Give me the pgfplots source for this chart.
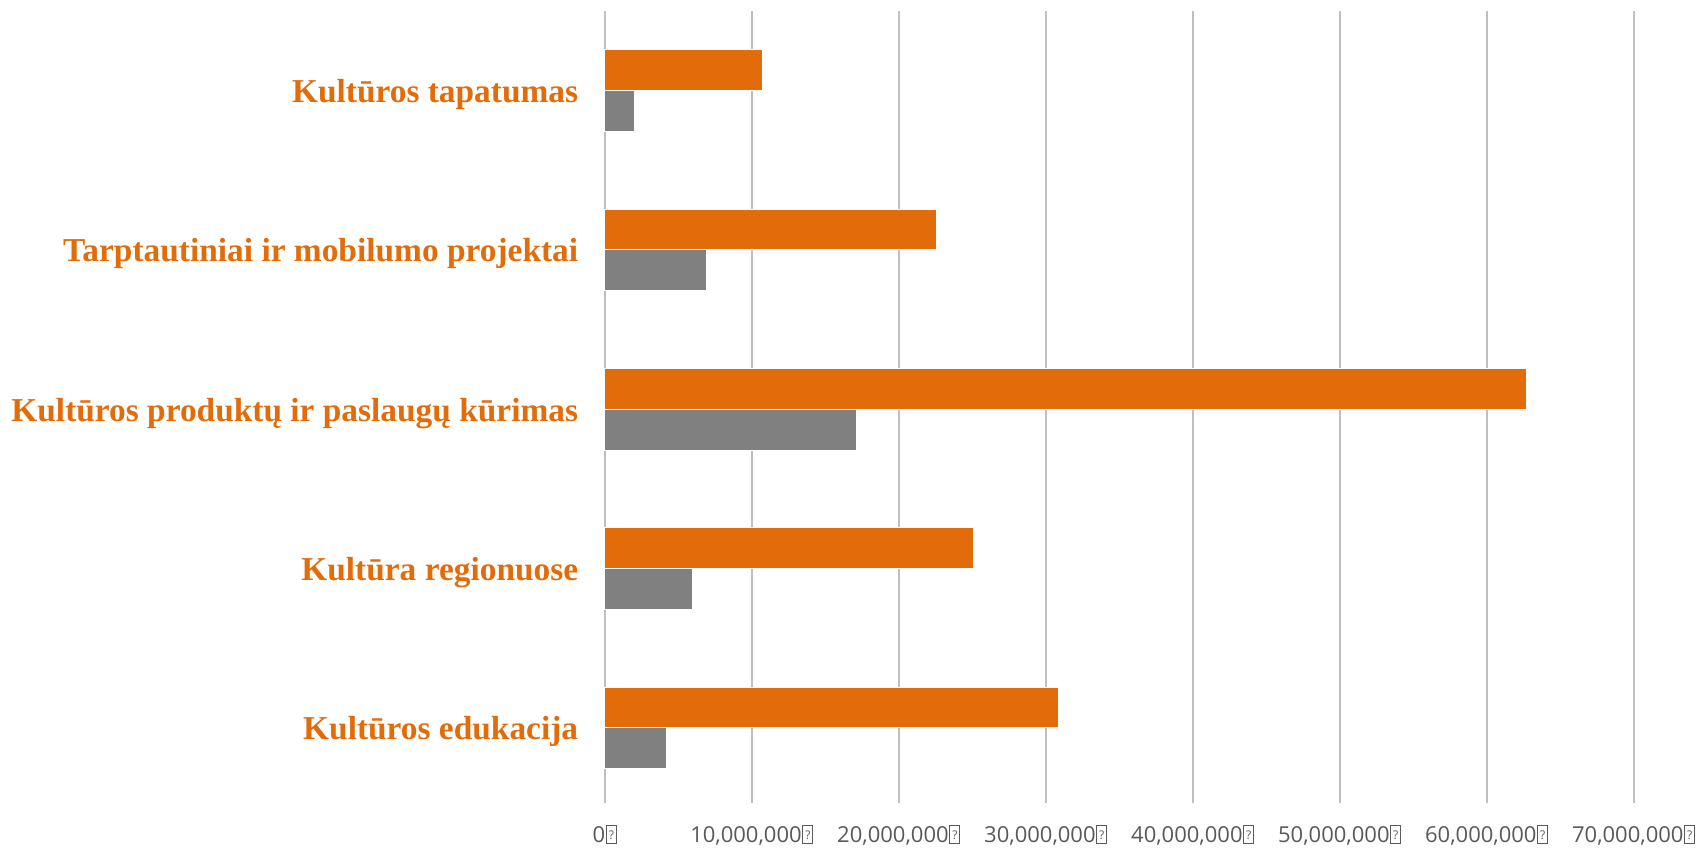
\documentclass[border=0pt]{standalone}
\usepackage{pgfplots}
\pgfplotsset{compat=1.18}
\usepackage{fontspec}
\setmainfont{Liberation Serif}
\newfontfamily\tickfont{Open Sans}
\definecolor{barorange}{HTML}{E36C0A}
\definecolor{bargray}{HTML}{808080}
\definecolor{gridgray}{HTML}{BFBFBF}
\definecolor{ticktext}{HTML}{595959}
% missing-glyph box as it appears in the source chart
\newcommand\qbox{{\setlength\fboxsep{0pt}\setlength\fboxrule{0.45pt}%
  \kern0.4pt\framebox[5.4pt]{\rule{0pt}{8.4pt}\raisebox{1.5pt}{\fontsize{6}{6}\selectfont ?}}}}
\begin{document}
\begin{tikzpicture}
\begin{axis}[
    scale only axis,
    width=514.4pt, height=395.9pt,
    xbar, bar width=20.4pt,
    xmin=0, xmax=70000000,
    ymin=-0.47, ymax=4.5,
    scaled x ticks=false,
    axis line style={draw=none},
    tick style={draw=none},
    xmajorgrids, ymajorgrids=false,
    major grid style={gridgray, line width=1pt},
    xtick={0,10000000,...,70000000},
    xticklabels={{0\qbox},{10,000,000\qbox},{20,000,000\qbox},{30,000,000\qbox},
      {40,000,000\qbox},{50,000,000\qbox},{60,000,000\qbox},{70,000,000\qbox}},
    xticklabel style={font=\tickfont\fontsize{11}{13}\selectfont, text=ticktext, yshift=-7.5pt},
    ytick={0,1,2,3,4},
    yticklabels={Kultūros edukacija, Kultūra regionuose,
      Kultūros produktų ir paslaugų kūrimas,
      Tarptautiniai ir mobilumo projektai, Kultūros tapatumas},
    yticklabel style={font=\bfseries\fontsize{16.7}{20}\selectfont, text=barorange,
      xshift=-5.5pt, yshift=-2pt},
    clip=false,
]
\addplot[fill=bargray, draw=white, line width=0.5pt, bar shift=-10.2pt] coordinates {
    (4200000,0) (6000000,1) (17100000,2) (6900000,3) (2000000,4)};
\addplot[fill=barorange, draw=white, line width=0.5pt, bar shift=10.2pt] coordinates {
    (30900000,0) (25100000,1) (62700000,2) (22600000,3) (10700000,4)};
\end{axis}
\pgfresetboundingbox
\useasboundingbox (current axis.south west) ++(-302.4pt,-23.9pt) rectangle ++(851pt,425.3pt);
\end{tikzpicture}
\end{document}
